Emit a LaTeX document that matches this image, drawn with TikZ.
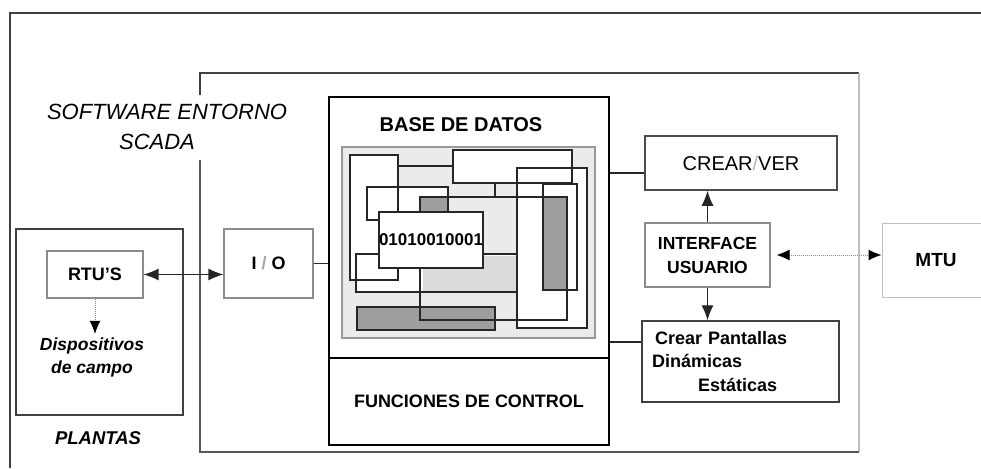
\documentclass[tikz,border=0pt]{standalone}
\usepackage{fontspec}
\setmainfont{Liberation Sans}
\usetikzlibrary{arrows.meta}
\begin{document}
\begin{tikzpicture}[x=1pt,y=-1pt,
  >={Latex[length=15pt,width=12pt]},
  frameline/.style={draw=black!75, line width=1.4pt},
  softbox/.style={draw=black!45, line width=1.1pt, inner sep=0pt},
  darkbox/.style={draw=black!75, line width=1.4pt, inner sep=0pt},
  bigbox/.style={draw=black, line width=2pt, inner sep=0pt},
  lbl/.style={font=\fontsize{18}{24}\selectfont\bfseries},
  conn/.style={draw=black!85, line width=1.2pt},
  cell/.style={draw=black!85, line width=1.2pt},
  dotted link/.style={draw=black!45, densely dotted, line width=1pt,
    >={Latex[length=13pt,width=11pt,black]}}
]
\clip (0,0) rectangle (981,468);
\fill[white] (0,0) rectangle (981,468);

% outer frame (open to the right and bottom)
\draw[frameline] (10,468) -- (10,13) -- (981,13);

% SCADA software frame, its left side broken by the title
\draw[frameline] (200,95) -- (200,73) -- (859,73);
\draw[draw=black!25, line width=1.2pt] (859,73) -- (859,452);
\draw[frameline, draw=black!65] (200,160) -- (200,452) -- (859,452);
\node[font=\fontsize{22}{30}\selectfont\itshape, align=center] (sw) at (167,127)
  {SOFTWARE ENTORNO\\SCADA\hspace*{20pt}};

% plant side
\node[darkbox, minimum width=167pt, minimum height=186pt] (plantas) at (99.5,322) {};
\node[font=\fontsize{18.5}{24}\selectfont\bfseries\itshape] (plantaslbl) at (98,438) {PLANTAS};
\node[softbox, lbl, minimum width=96pt, minimum height=47pt] (rtu) at (95,274.5) {RTU'S};
\node[font=\fontsize{17.5}{23}\selectfont\bfseries\itshape, align=center] (disp) at (92,357)
  {Dispositivos\\de campo};

% I/O block
\node[softbox, lbl, minimum width=89pt, minimum height=69pt] (io) at (268.5,263.5)
  {I {\color{black!35}/} O};

% database and control functions
\node[bigbox, minimum width=280pt, minimum height=261pt] (base) at (469,227.5) {};
\node[bigbox, lbl, minimum width=280pt, minimum height=87pt] (func) at (469,401.5)
  {FUNCIONES DE CONTROL};
\node[font=\fontsize{20}{24}\selectfont\bfseries] (dbtitle) at (461,125) {BASE DE DATOS};

% database panel: overlapping record blocks
\draw[draw=black!40, fill=black!8, line width=1.6pt] (342,147) rectangle (595,338);
\fill[white] (350,155) rectangle (398,280);
\fill[white] (453,150) rectangle (572,183);
\fill[white] (367,187) rectangle (448,220);
\fill[white] (356,254) rectangle (517,292);
\fill[black!14] (423,256) rectangle (517,291);
\fill[white] (517,168) rectangle (587,328);
\fill[black!38] (543,197) rectangle (567,290);
\fill[black!38] (420,197) rectangle (448,212);
\fill[black!38] (357,307) rectangle (495,330);
\draw[cell] (350,155) rectangle (398,280);
\draw[cell] (453,150) rectangle (572,183);
\draw[cell] (495,183) -- (495,197);
\draw[cell] (398,166) -- (453,166);
\draw[cell] (367,187) rectangle (448,220);
\draw[cell] (356,254) rectangle (517,292);
\draw[cell] (517,168) rectangle (587,328);
\draw[cell] (543,184) rectangle (577,290);
\draw[cell] (420,197) rectangle (567,320);
\draw[cell] (357,307) rectangle (495,330);
\node[cell, fill=white, minimum width=102pt, minimum height=56pt, inner sep=0pt,
  font=\fontsize{17}{20}\selectfont\bfseries] (bits) at (431,240) {01010010001};

% user side
\node[darkbox, draw=black!70, line width=1.5pt, minimum width=192pt, minimum height=54pt,
  font=\fontsize{20}{24}\selectfont] (crear) at (741,163) {CREAR{\color{black!30}/}VER};
\node[softbox, font=\fontsize{17.5}{24}\selectfont\bfseries, align=center,
  minimum width=125pt, minimum height=64pt] (iface) at (707.5,255) {INTERFACE\\USUARIO};
\node[darkbox, font=\fontsize{18}{23.5}\selectfont\bfseries, align=left,
  minimum width=197pt, minimum height=81pt, text width=177pt, inner xsep=10pt]
  (pant) at (740.5,361.5)
  {\hspace*{3pt}Crear Pantallas\\Dinámicas\\\hspace*{46pt}Estáticas};
\node[draw=black!25, line width=1pt, font=\fontsize{19}{24}\selectfont\bfseries,
  minimum width=108pt, minimum height=74pt] (mtu) at (936,260) {MTU};

% connectors
\draw[conn, <->] (rtu.east) -- (rtu.east -| io.west);
\draw[conn] (io.east) -- (io.east -| base.west);
\draw[conn] ([yshift=-10pt]crear.west) -- ([yshift=-10pt]crear.west -| base.east);
\draw[conn] ([yshift=19.5pt]pant.west) -- ([yshift=19.5pt]pant.west -| base.east);
\draw[conn, ->] (iface.north) -- (iface.north |- crear.south);
\draw[conn, ->] (iface.south) -- (iface.south |- pant.north);
\draw[dotted link, <->, shorten <=6pt] (iface.east) -- (iface.east -| mtu.west);
\draw[dotted link, ->] (rtu.south) -- (rtu.south |- disp.north);
\end{tikzpicture}
\end{document}
